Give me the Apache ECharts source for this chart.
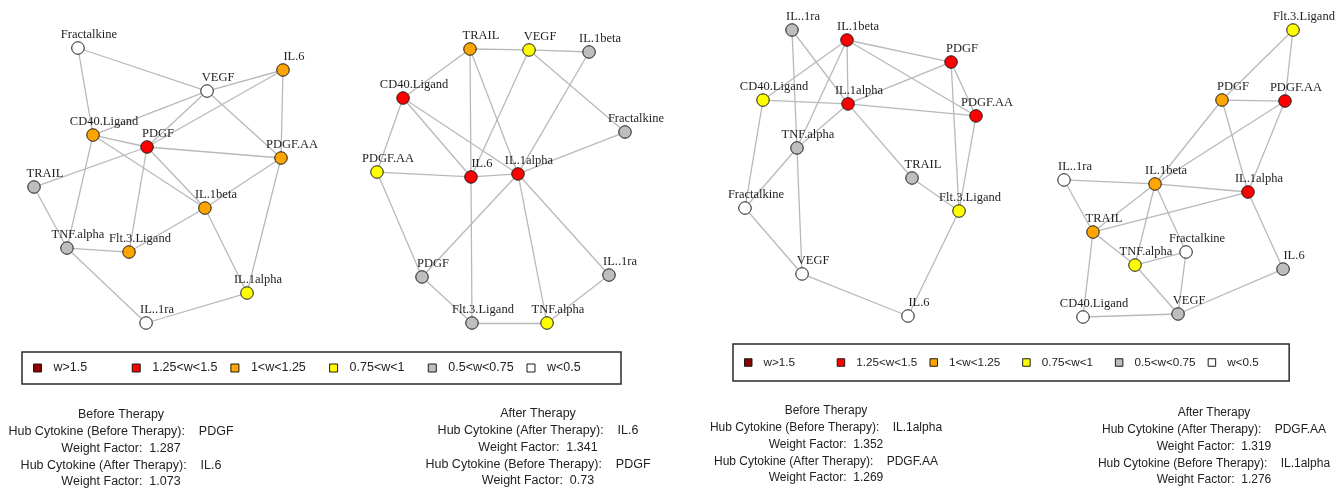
<!DOCTYPE html>
<html>
<head>
<meta charset="utf-8">
<title>Cytokine networks before and after therapy</title>
<script src="https://cdn.jsdelivr.net/npm/echarts@6/dist/echarts.min.js"></script>
<style>
  html, body { margin: 0; padding: 0; background: #ffffff; }
  #chart { width: 1337px; height: 489px; }
</style>
</head>
<body>
<div id="chart"></div>
<script>
// Weight-factor classes used to colour the cytokine nodes
const weightClasses = ['w>1.5', '1.25<w<1.5', '1<w<1.25', '0.75<w<1', '0.5<w<0.75', 'w<0.5'];

// Nodes: [name, layout x, layout y, weight class index]; layout is scaled to [-1, 1]
const study1Before = [
  ['Fractalkine', -0.647, 1.000, 5],
  ['IL.6', 1.000, 0.840, 2],
  ['VEGF', 0.390, 0.687, 5],
  ['CD40.Ligand', -0.526, 0.367, 2],
  ['PDGF', -0.092, 0.280, 1],
  ['PDGF.AA', 0.984, 0.200, 2],
  ['TRAIL', -1.000, -0.011, 4],
  ['IL.1beta', 0.373, -0.164, 2],
  ['TNF.alpha', -0.735, -0.455, 4],
  ['Flt.3.Ligand', -0.237, -0.484, 2],
  ['IL.1alpha', 0.711, -0.782, 3],
  ['IL..1ra', -0.100, -1.000, 5]
];
const study1BeforeLinks = [
  ['Fractalkine', 'VEGF'], ['Fractalkine', 'CD40.Ligand'], ['VEGF', 'IL.6'],
  ['VEGF', 'CD40.Ligand'], ['VEGF', 'PDGF'], ['VEGF', 'PDGF.AA'], ['IL.6', 'PDGF'],
  ['IL.6', 'PDGF.AA'], ['CD40.Ligand', 'PDGF'], ['CD40.Ligand', 'IL.1beta'],
  ['CD40.Ligand', 'TNF.alpha'], ['PDGF', 'PDGF.AA'], ['PDGF', 'TRAIL'],
  ['PDGF', 'IL.1beta'], ['PDGF', 'Flt.3.Ligand'], ['PDGF.AA', 'IL.1beta'],
  ['PDGF.AA', 'IL.1alpha'], ['TRAIL', 'TNF.alpha'], ['IL.1beta', 'Flt.3.Ligand'],
  ['IL.1beta', 'IL.1alpha'], ['TNF.alpha', 'Flt.3.Ligand'], ['TNF.alpha', 'IL..1ra'],
  ['IL..1ra', 'IL.1alpha']
];

const study1After = [
  ['TRAIL', -0.250, 1.000, 2],
  ['VEGF', 0.226, 0.993, 3],
  ['IL.1beta', 0.710, 0.978, 4],
  ['CD40.Ligand', -0.790, 0.642, 1],
  ['Fractalkine', 1.000, 0.394, 4],
  ['PDGF.AA', -1.000, 0.102, 3],
  ['IL.6', -0.242, 0.066, 1],
  ['IL.1alpha', 0.137, 0.088, 1],
  ['PDGF', -0.637, -0.664, 4],
  ['IL..1ra', 0.871, -0.650, 4],
  ['Flt.3.Ligand', -0.234, -1.000, 4],
  ['TNF.alpha', 0.371, -1.000, 3]
];
const study1AfterLinks = [
  ['TRAIL', 'VEGF'], ['VEGF', 'IL.1beta'], ['TRAIL', 'CD40.Ligand'], ['TRAIL', 'IL.6'],
  ['IL.6', 'Flt.3.Ligand'], ['TRAIL', 'IL.1alpha'], ['VEGF', 'IL.6'], ['VEGF', 'Fractalkine'],
  ['IL.1beta', 'IL.1alpha'], ['CD40.Ligand', 'PDGF.AA'], ['CD40.Ligand', 'IL.6'],
  ['CD40.Ligand', 'IL.1alpha'], ['Fractalkine', 'IL.1alpha'], ['PDGF.AA', 'IL.6'],
  ['IL.6', 'IL.1alpha'], ['PDGF.AA', 'PDGF'], ['IL.1alpha', 'PDGF'], ['IL.1alpha', 'TNF.alpha'],
  ['IL.1alpha', 'IL..1ra'], ['PDGF', 'Flt.3.Ligand'], ['Flt.3.Ligand', 'TNF.alpha'],
  ['TNF.alpha', 'IL..1ra']
];

const study2Before = [
  ['IL..1ra', -0.593, 1.000, 4],
  ['IL.1beta', -0.117, 0.930, 1],
  ['PDGF', 0.784, 0.776, 1],
  ['CD40.Ligand', -0.844, 0.510, 3],
  ['IL.1alpha', -0.108, 0.483, 1],
  ['PDGF.AA', 1.000, 0.399, 1],
  ['TNF.alpha', -0.550, 0.175, 4],
  ['TRAIL', 0.446, -0.035, 4],
  ['Fractalkine', -1.000, -0.245, 5],
  ['Flt.3.Ligand', 0.853, -0.266, 3],
  ['VEGF', -0.506, -0.706, 5],
  ['IL.6', 0.411, -1.000, 5]
];
const study2BeforeLinks = [
  ['IL..1ra', 'IL.1alpha'], ['IL..1ra', 'TNF.alpha'], ['TNF.alpha', 'VEGF'],
  ['IL.1beta', 'PDGF'], ['IL.1beta', 'PDGF.AA'], ['IL.1beta', 'CD40.Ligand'],
  ['IL.1beta', 'IL.1alpha'], ['IL.1beta', 'TNF.alpha'], ['PDGF', 'IL.1alpha'],
  ['PDGF', 'PDGF.AA'], ['PDGF', 'Flt.3.Ligand'], ['CD40.Ligand', 'IL.1alpha'],
  ['IL.1alpha', 'PDGF.AA'], ['CD40.Ligand', 'Fractalkine'], ['IL.1alpha', 'TNF.alpha'],
  ['IL.1alpha', 'TRAIL'], ['PDGF.AA', 'Flt.3.Ligand'], ['TNF.alpha', 'Fractalkine'],
  ['TRAIL', 'Flt.3.Ligand'], ['Fractalkine', 'VEGF'], ['VEGF', 'IL.6'],
  ['Flt.3.Ligand', 'IL.6']
];

const study2After = [
  ['Flt.3.Ligand', 1.000, 1.000, 3],
  ['PDGF', 0.380, 0.512, 2],
  ['PDGF.AA', 0.930, 0.505, 1],
  ['IL..1ra', -1.000, -0.045, 5],
  ['IL.1beta', -0.205, -0.073, 2],
  ['IL.1alpha', 0.607, -0.129, 1],
  ['TRAIL', -0.747, -0.408, 2],
  ['Fractalkine', 0.066, -0.547, 5],
  ['TNF.alpha', -0.380, -0.638, 3],
  ['IL.6', 0.913, -0.666, 4],
  ['CD40.Ligand', -0.834, -1.000, 5],
  ['VEGF', -0.004, -0.979, 4]
];
const study2AfterLinks = [
  ['Flt.3.Ligand', 'PDGF'], ['Flt.3.Ligand', 'PDGF.AA'], ['PDGF', 'PDGF.AA'],
  ['PDGF', 'IL.1beta'], ['PDGF', 'IL.1alpha'], ['PDGF.AA', 'IL.1beta'],
  ['PDGF.AA', 'IL.1alpha'], ['IL..1ra', 'IL.1beta'], ['IL.1beta', 'IL.1alpha'],
  ['IL..1ra', 'TRAIL'], ['IL.1beta', 'TRAIL'], ['IL.1beta', 'TNF.alpha'],
  ['IL.1beta', 'Fractalkine'], ['TRAIL', 'IL.1alpha'], ['TRAIL', 'TNF.alpha'],
  ['TRAIL', 'CD40.Ligand'], ['TNF.alpha', 'Fractalkine'], ['TNF.alpha', 'VEGF'],
  ['Fractalkine', 'VEGF'], ['IL.1alpha', 'IL.6'], ['IL.6', 'VEGF'], ['CD40.Ligand', 'VEGF']
];

// Hub cytokine summaries printed under each network
const hubSummary1Before = ['Before Therapy', 'Hub Cytokine (Before Therapy):', 'PDGF', '1.287', 'Hub Cytokine (After Therapy):', 'IL.6', '1.073'];
const hubSummary1After = ['After Therapy', 'Hub Cytokine (After Therapy):', 'IL.6', '1.341', 'Hub Cytokine (Before Therapy):', 'PDGF', '0.73'];
const hubSummary2Before = ['Before Therapy', 'Hub Cytokine (Before Therapy):', 'IL.1alpha', '1.352', 'Hub Cytokine (After Therapy):', 'PDGF.AA', '1.269'];
const hubSummary2After = ['After Therapy', 'Hub Cytokine (After Therapy):', 'PDGF.AA', '1.319', 'Hub Cytokine (Before Therapy):', 'IL.1alpha', '1.276'];

// ---- styling and layout ----
const classColors = ['#8B0000', '#FF0000', '#FFA500', '#FFFF00', '#BEBEBE', '#FFFFFF'];
const panels = [
  { nodes: study1Before, links: study1BeforeLinks, grid: { left: 34, top: 48, width: 249, height: 275 } },
  { nodes: study1After, links: study1AfterLinks, grid: { left: 377, top: 49, width: 248, height: 274 } },
  { nodes: study2Before, links: study2BeforeLinks, grid: { left: 745, top: 30, width: 231, height: 286 } },
  { nodes: study2After, links: study2AfterLinks, grid: { left: 1064, top: 30, width: 229, height: 287 } }
];

const categories = weightClasses.map((name, i) => ({
  name: name,
  itemStyle: { color: classColors[i], borderColor: '#1a1a1a', borderWidth: 1 }
}));

const chart = echarts.init(document.getElementById('chart'), null, { renderer: 'canvas' });

const grids = panels.map(p => Object.assign({ containLabel: false }, p.grid));
const xAxes = panels.map((p, i) => ({ type: 'value', gridIndex: i, min: -1, max: 1, show: false }));
const yAxes = panels.map((p, i) => ({ type: 'value', gridIndex: i, min: -1, max: 1, show: false }));

const series = panels.map((p, i) => ({
  type: 'graph',
  layout: 'none',
  coordinateSystem: 'cartesian2d',
  xAxisIndex: i,
  yAxisIndex: i,
  roam: false,
  silent: true,
  symbol: 'circle',
  symbolSize: 12.5,
  categories: categories,
  data: p.nodes.map(n => ({ name: n[0], value: [n[1], n[2]], category: n[3] })),
  links: p.links.map(l => ({ source: l[0], target: l[1] })),
  lineStyle: { color: '#b9b9b9', width: 1.3, opacity: 1, curveness: 0 },
  label: {
    show: true,
    position: 'inside',
    offset: [11, -13],
    formatter: '{b}',
    fontFamily: 'Liberation Serif',
    fontSize: 12.5,
    color: '#1e1e1e'
  },
  emphasis: { disabled: true }
}));

function legendFor(opts) {
  return {
    data: weightClasses,
    orient: 'horizontal',
    left: opts.left,
    top: opts.top,
    icon: 'rect',
    itemWidth: opts.icon,
    itemHeight: opts.icon,
    itemGap: opts.gap,
    selectedMode: false,
    padding: opts.padding,
    borderColor: '#2a2a2a',
    borderWidth: 1.5,
    backgroundColor: '#ffffff',
    itemStyle: { borderColor: '#1a1a1a', borderWidth: 1 },
    textStyle: {
      fontFamily: 'Liberation Sans',
      fontSize: opts.font,
      color: '#222222',
      width: opts.textWidth,
      lineHeight: opts.lineHeight,
      padding: [0, 0, 0, opts.textPad]
    }
  };
}

function summaryLines(s) {
  return [
    s[0],
    s[1] + '    ' + s[2],
    'Weight Factor:  ' + s[3],
    s[4] + '    ' + s[5],
    'Weight Factor:  ' + s[6]
  ].join('\n');
}

function summaryText(s, cx, top, size) {
  return {
    type: 'text',
    x: cx,
    y: top,
    silent: true,
    style: {
      text: summaryLines(s),
      align: 'center',
      verticalAlign: 'top',
      fontFamily: 'Liberation Sans',
      fontSize: size,
      lineHeight: 16.75,
      fill: '#222222'
    }
  };
}

chart.setOption({
  backgroundColor: '#ffffff',
  animation: false,
  grid: grids,
  xAxis: xAxes,
  yAxis: yAxes,
  legend: [
    legendFor({ left: 22, top: 352, icon: 8, gap: 10.2, padding: [8.5, 6, 8.5, 11], font: 12.5, textWidth: 68, lineHeight: 15, textPad: 7 }),
    legendFor({ left: 733, top: 344, icon: 7.5, gap: 12.2, padding: [11.5, 1, 11.5, 11], font: 11.7, textWidth: 61, lineHeight: 14, textPad: 6.5 })
  ],
  graphic: [
    summaryText(hubSummary1Before, 121, 415 - 8.4, 12.5),
    summaryText(hubSummary1After, 538, 414 - 8.4, 12.5),
    summaryText(hubSummary2Before, 826, 411 - 8.4, 12),
    summaryText(hubSummary2After, 1214, 413 - 8.4, 12)
  ],
  series: series
});
</script>
</body>
</html>
